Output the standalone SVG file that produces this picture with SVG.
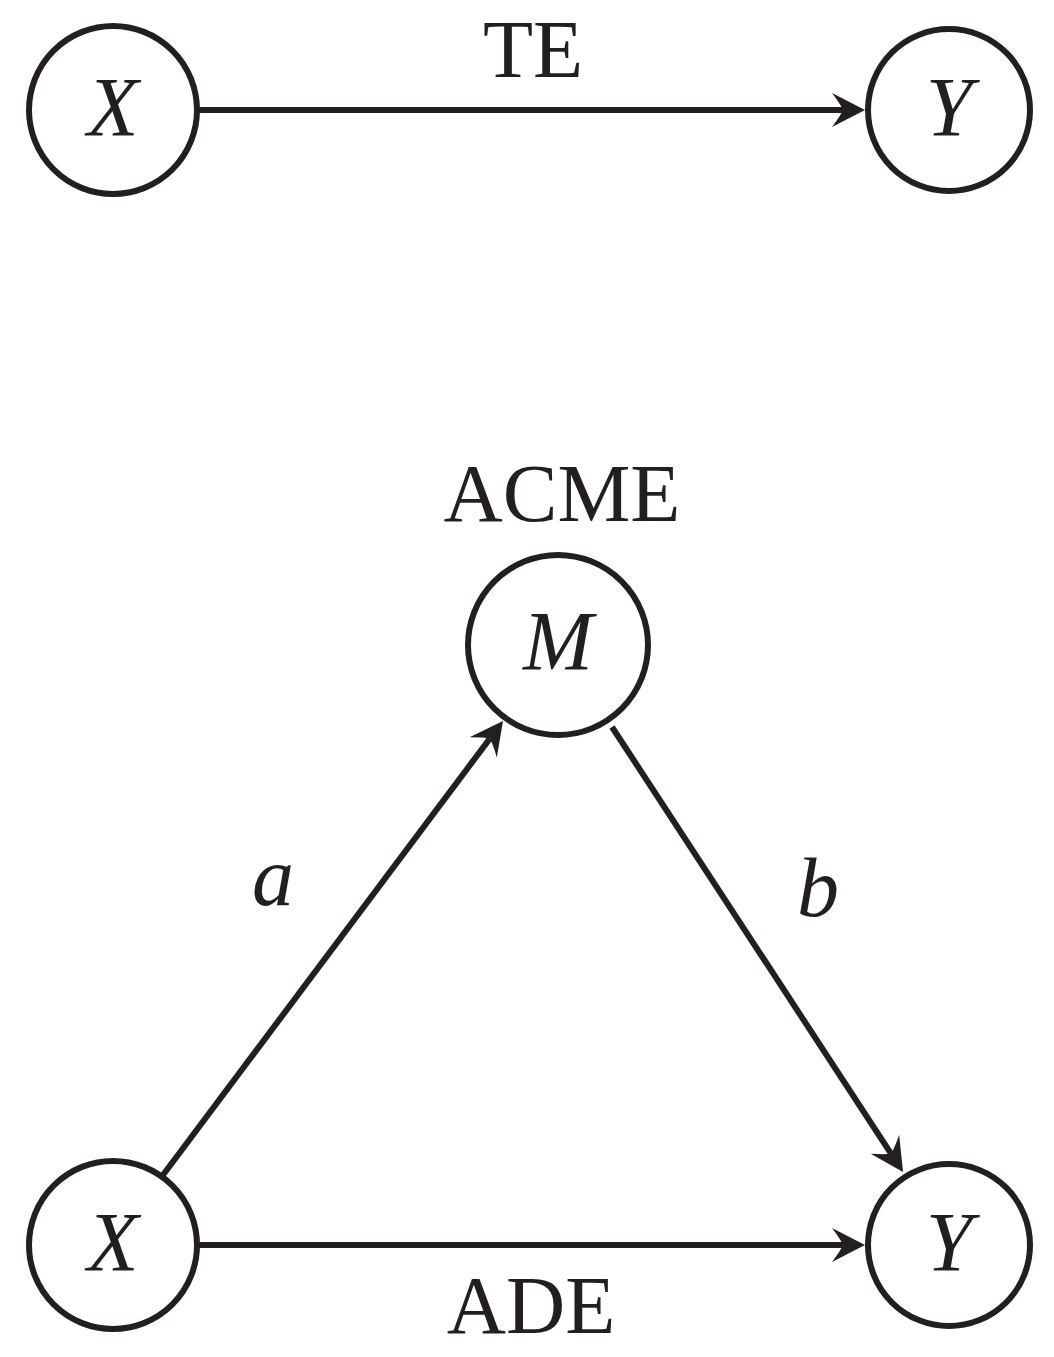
<svg xmlns="http://www.w3.org/2000/svg" width="1054" height="1357" viewBox="0 0 1054 1357">
<style>
.node{fill:#fff;stroke:#231f20;stroke-width:6}
.edge{stroke:#231f20;stroke-width:6;fill:none}
.lbl{font-family:"Liberation Serif",serif;font-size:82px;fill:#231f20;text-anchor:middle}
.var{font-family:"Liberation Serif",serif;font-style:italic;font-size:84px;fill:#231f20;text-anchor:middle}
</style>
<defs>
<marker id="ah" markerUnits="userSpaceOnUse" markerWidth="40" markerHeight="40" refX="0" refY="0" orient="auto" overflow="visible">
<path d="M22,0 L-11,-17 Q-2,-5 0,0 Q-2,5 -11,17 Z" fill="#231f20"/>
</marker>
</defs>
<rect width="1054" height="1357" fill="#fff"/>
<g id="connectors">
<line class="edge" x1="198" y1="110" x2="843" y2="110" marker-end="url(#ah)"/>
<line class="edge" x1="198" y1="1245" x2="843" y2="1245" marker-end="url(#ah)"/>
<line class="edge" x1="163" y1="1175" x2="489.8" y2="738.6" marker-end="url(#ah)"/>
<line class="edge" x1="612" y1="727" x2="891" y2="1153.6" marker-end="url(#ah)"/>
<text class="lbl" x="533" y="77">TE</text>
<text class="lbl" x="531" y="1333">ADE</text>
<text class="var" x="273" y="905" font-size="76">a</text>
<text class="var" x="818" y="916" font-size="76">b</text>
</g>
<g id="node-x-top"><circle class="node" cx="113" cy="110" r="84"/><text class="var" x="113" y="136">X</text></g>
<g id="node-y-top"><circle class="node" cx="949" cy="110" r="81"/><text class="var" x="949" y="136">Y</text></g>
<g id="node-m"><circle class="node" cx="558" cy="645" r="90"/><text class="var" x="558" y="670">M</text><text class="lbl" x="562" y="521">ACME</text></g>
<g id="node-x-bottom"><circle class="node" cx="113" cy="1245" r="84"/><text class="var" x="113" y="1271">X</text></g>
<g id="node-y-bottom"><circle class="node" cx="949" cy="1245" r="81"/><text class="var" x="949" y="1271">Y</text></g>
</svg>
